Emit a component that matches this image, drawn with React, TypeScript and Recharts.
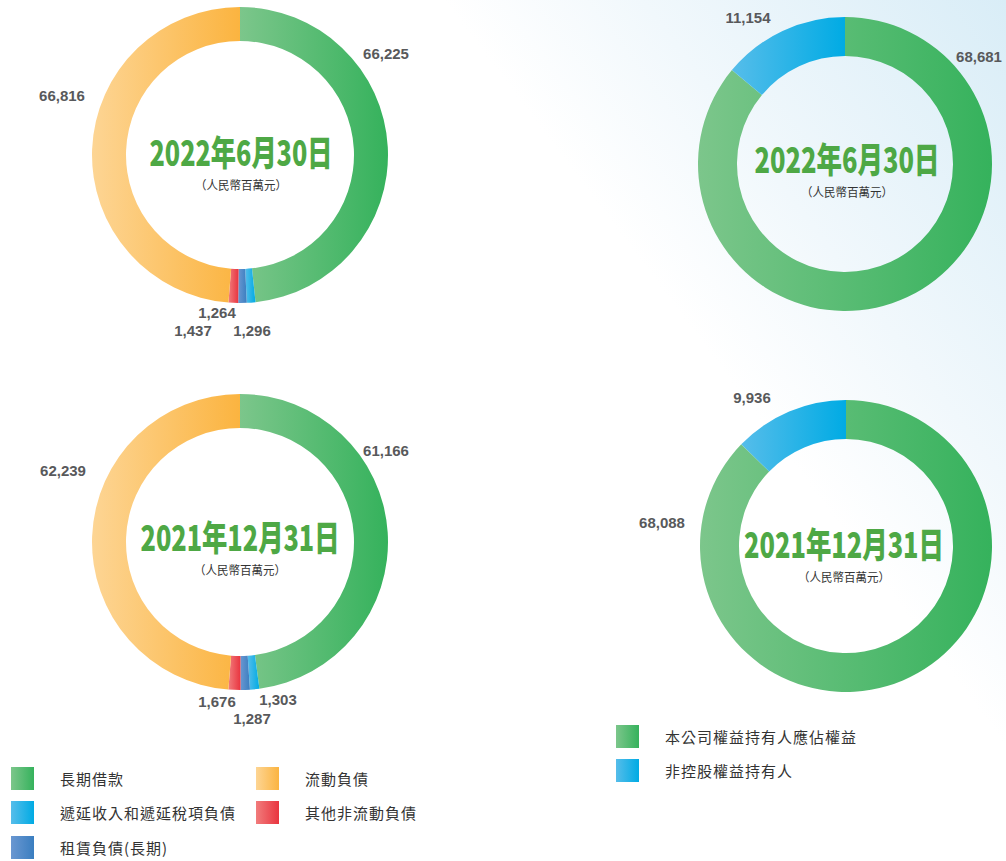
import { PieChart, Pie, Cell } from "recharts";

const liabilityNames = ["長期借款", "遞延收入和遞延稅項負債", "租賃負債(長期)", "其他非流動負債", "流動負債"];
const liabilities2022 = [66225, 1296, 1264, 1437, 66816];
const liabilities2021 = [61166, 1303, 1287, 1676, 62239];
const equityNames = ["本公司權益持有人應佔權益", "非控股權益持有人"];
const equity2022 = [68681, 11154];
const equity2021 = [68088, 9936];
const dateLabels = ["2022年6月30日", "2021年12月31日"];
const unitLabel = "（人民幣百萬元）";

// gradient stops per series: [light, dark]
const liabilityColors: [string, string][] = [
  ["#7cc68b", "#35b25c"],
  ["#56bdea", "#00abe4"],
  ["#6a97d1", "#3a7ec0"],
  ["#f17c7c", "#e9343f"],
  ["#fdd594", "#fbb440"],
];
const equityColors: [string, string][] = [
  ["#7cc68b", "#35b25c"],
  ["#56bdea", "#00abe4"],
];

const toRows = (names: string[], values: number[]) => names.map((name, i) => ({ name, value: values[i] }));

// label offsets from donut centre
const offsLiab2022: [number, number][] = [[146, -102], [12, 175], [-23, 157], [-47, 175], [-178, -60]];
const offsLiab2021: [number, number][] = [[146, -92], [38, 157], [12, 176], [-23, 159], [-177, -72]];
const offsEq2022: [number, number][] = [[134, -108], [-97, -147]];
const offsEq2021: [number, number][] = [[-184, -24], [-94, -149]];

const makeLabel = (offs: [number, number][]) => (props: any) => {
  const { cx, cy, index, value } = props;
  const [dx, dy] = offs[index];
  return (
    <text
      x={cx + dx}
      y={cy + dy}
      textAnchor="middle"
      dominantBaseline="central"
      fill="#58595b"
      fontSize={15}
      fontWeight="bold"
      fontFamily="'Liberation Sans', Arial, sans-serif"
    >
      {Number(value).toLocaleString("en-US")}
    </text>
  );
};

const font = "'Noto Sans CJK TC', 'Noto Sans CJK SC', sans-serif";

function Swatch({ c }: { c: [string, string] }) {
  return <div style={{ width: 23, height: 23, background: `linear-gradient(90deg, ${c[0]}, ${c[1]})` }} />;
}

function LegendItem({ x, y, c, label, tx }: { x: number; y: number; c: [string, string]; label: string; tx: number }) {
  return (
    <div style={{ position: "absolute", left: x, top: y, display: "flex", alignItems: "center" }}>
      <Swatch c={c} />
      <span style={{ marginLeft: tx, fontFamily: font, fontSize: 15, letterSpacing: 1, color: "#333" }}>{label}</span>
    </div>
  );
}

function Title({ x, y, text, w }: { x: number; y: number; text: string; w: number }) {
  return (
    <g>
      <text
        x={x}
        y={y}
        textAnchor="middle"
        dominantBaseline="central"
        fontFamily={font}
        fontWeight="900"
        fontSize={35}
        fill="#4ea845"
        textLength={w}
        lengthAdjust="spacingAndGlyphs"
      >
        {text}
      </text>
      <text
        x={x}
        y={y + 34}
        textAnchor="middle"
        dominantBaseline="central"
        fontFamily={font}
        fontSize={12}
        fill="#333"
        textLength={92}
        lengthAdjust="spacingAndGlyphs"
      >
        {unitLabel}
      </text>
    </g>
  );
}

const noMargin = { top: 0, right: 0, bottom: 0, left: 0 };

export default function App() {
  const liab22 = toRows(liabilityNames, liabilities2022);
  const liab21 = toRows(liabilityNames, liabilities2021);
  const eq22 = toRows(equityNames, equity2022);
  const eq21 = toRows(equityNames, equity2021);

  return (
    <div
      style={{
        position: "absolute",
        left: 0,
        top: 0,
        width: 1006,
        height: 861,
        overflow: "hidden",
        background: "linear-gradient(53deg, #ffffff 0%, #ffffff 66%, #f1f8fc 78%, #d9edf7 100%)",
      }}
    >
      <PieChart width={1006} height={861} margin={noMargin}>
        <defs>
          {liabilityColors.map((c, i) => (
            <linearGradient key={"l" + i} id={"lg" + i} x1="0" y1="0" x2="1" y2="0">
              <stop offset="0%" stopColor={c[0]} />
              <stop offset="100%" stopColor={c[1]} />
            </linearGradient>
          ))}
          {equityColors.map((c, i) => (
            <linearGradient key={"e" + i} id={"eg" + i} x1="0" y1="0" x2="1" y2="0">
              <stop offset="0%" stopColor={c[0]} />
              <stop offset="100%" stopColor={c[1]} />
            </linearGradient>
          ))}
        </defs>
        <Pie
          data={liab22}
          dataKey="value"
          cx={240}
          cy={155}
          innerRadius={114}
          outerRadius={148}
          startAngle={90}
          endAngle={-270}
          stroke="none"
          labelLine={false}
          label={makeLabel(offsLiab2022)}
          isAnimationActive={false}
        >
          {liab22.map((_, i) => (
            <Cell key={i} fill={`url(#lg${i})`} />
          ))}
        </Pie>
        <Pie
          data={liab21}
          dataKey="value"
          cx={240}
          cy={542}
          innerRadius={114}
          outerRadius={148}
          startAngle={90}
          endAngle={-270}
          stroke="none"
          labelLine={false}
          label={makeLabel(offsLiab2021)}
          isAnimationActive={false}
        >
          {liab21.map((_, i) => (
            <Cell key={i} fill={`url(#lg${i})`} />
          ))}
        </Pie>
        <Pie
          data={eq22}
          dataKey="value"
          cx={845}
          cy={164}
          innerRadius={108}
          outerRadius={147}
          startAngle={90}
          endAngle={-270}
          stroke="none"
          labelLine={false}
          label={makeLabel(offsEq2022)}
          isAnimationActive={false}
        >
          {eq22.map((_, i) => (
            <Cell key={i} fill={`url(#eg${i})`} />
          ))}
        </Pie>
        <Pie
          data={eq21}
          dataKey="value"
          cx={846}
          cy={546}
          innerRadius={107}
          outerRadius={146}
          startAngle={90}
          endAngle={-270}
          stroke="none"
          labelLine={false}
          label={makeLabel(offsEq2021)}
          isAnimationActive={false}
        >
          {eq21.map((_, i) => (
            <Cell key={i} fill={`url(#eg${i})`} />
          ))}
        </Pie>
      </PieChart>

      <svg width={1006} height={861} style={{ position: "absolute", left: 0, top: 0, pointerEvents: "none" }}>
        <Title x={241} y={150} text={dateLabels[0]} w={183} />
        <Title x={240} y={535} text={dateLabels[1]} w={199} />
        <Title x={847} y={157} text={dateLabels[0]} w={185} />
        <Title x={844} y={542} text={dateLabels[1]} w={200} />
      </svg>

      <LegendItem x={11} y={767} c={liabilityColors[0]} label={liabilityNames[0]} tx={26} />
      <LegendItem x={11} y={801} c={liabilityColors[1]} label={liabilityNames[1]} tx={26} />
      <LegendItem x={11} y={836} c={liabilityColors[2]} label={liabilityNames[2]} tx={26} />
      <LegendItem x={256} y={767} c={liabilityColors[4]} label={liabilityNames[4]} tx={26} />
      <LegendItem x={256} y={801} c={liabilityColors[3]} label={liabilityNames[3]} tx={26} />
      <LegendItem x={616} y={725} c={equityColors[0]} label={equityNames[0]} tx={26} />
      <LegendItem x={616} y={759} c={equityColors[1]} label={equityNames[1]} tx={26} />
    </div>
  );
}
